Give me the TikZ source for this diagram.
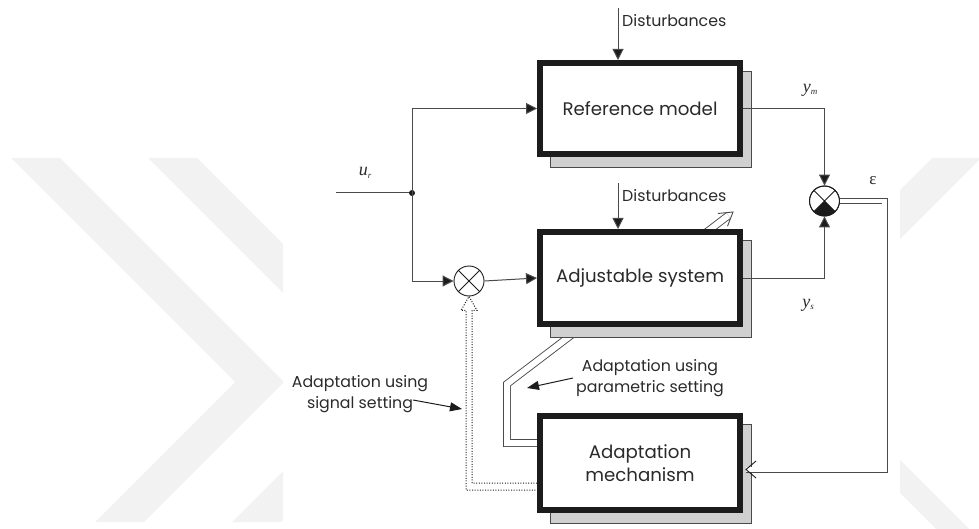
\documentclass[tikz,border=0pt]{standalone}
\usepackage{fontspec}
\setmainfont{Poppins}
\newfontfamily\symfont{Liberation Serif}
\usetikzlibrary{arrows.meta,calc}
\definecolor{ink}{HTML}{1C1C1C}
\definecolor{wire}{HTML}{4A4A4A}
\definecolor{shade}{HTML}{D0D0D0}
\definecolor{wmgray}{HTML}{F2F2F2}
\definecolor{txt}{HTML}{2A2A2A}
\newcommand\blocktext{\fontsize{18.2}{23}\selectfont}
\newcommand\notetext{\fontsize{15.8}{21}\selectfont}
\newcommand\symtext{\symfont\itshape\fontsize{18}{18}\selectfont}
\newcommand\subtext[1]{\raisebox{-2.5pt}{\fontsize{9}{9}\selectfont #1}}

\begin{document}
\begin{tikzpicture}[x=1pt,y=-1pt,
  block/.style={draw=ink, line width=6pt, fill=white, minimum width=200pt,
    inner sep=0pt, align=center, font=\blocktext, text=txt},
  shadowbox/.style={fill=shade, draw=wire, line width=0.8pt},
  junction/.style={circle, draw=ink, line width=0.9pt, fill=white,
    minimum size=30pt, inner sep=0pt},
  wireline/.style={draw=wire, line width=1pt},
  sig/.style={wireline, -{Triangle[length=11pt,width=11pt,fill=ink]}},
  pointer/.style={draw=ink, line width=1pt, -{Triangle[length=12pt,width=9pt,fill=ink]}},
  twin/.style={draw=wire, line width=0.9pt, double=white, line join=miter},
  note/.style={font=\notetext, text=txt, align=center, inner sep=0pt},
  sym/.style={font=\symtext, text=txt, inner sep=0pt}]

\useasboundingbox (0,0) rectangle (979,529);

% faint background watermark
\begin{scope}
  \clip (0,158) rectangle (283,522);
  \fill[wmgray] (11,158) -- (60,158) -- (284,382) -- (144,522) -- (95,522) -- (235,382) -- cycle;
  \fill[wmgray] (148,158) -- (197,158) -- (421,382) -- (281,522) -- (232,522) -- (372,382) -- cycle;
\end{scope}
\begin{scope}
  \clip (900,150) rectangle (979,529);
  \fill[wmgray] (900,190) -- (932,158) -- (981,158) -- (900,239) -- cycle;
  \fill[wmgray] (900,460) -- (1000,560) -- (1000,593) -- (900,493) -- cycle;
\end{scope}

% parametric adaptation path (drawn first, passes behind the block)
\coordinate (ptail) at (507,384);
\coordinate (ptip) at (733,212);
\coordinate (pbase) at ($(ptip)!6pt!(ptail)$);
\draw[twin, double distance=6pt] (537,443) -- (507,443) -- (ptail) -- (pbase);
\draw[draw=wire, line width=0.9pt]
  ($(ptip)!13pt!(ptail)!8pt!90:(ptail)$) -- (ptip) -- ($(ptip)!13pt!(ptail)!8pt!-90:(ptail)$);

% shadows
\foreach \c/\h in {108.5/91, 278/92, 463/94}{
  \draw[shadowbox] (550,\c-\h/2+8) rectangle (751,\c+\h/2+13);
}

% blocks
\node[block, minimum height=91pt] (ref) at (640,108.5) {Reference model};
\node[block, minimum height=92pt] (adj) at (640,278) {Adjustable system};
\node[block, minimum height=94pt] (adapt) at (640,463) {Adaptation\\mechanism};

% summing junctions
\node[junction] (sumL) at (469,281) {};
\draw[ink, line width=0.9pt] (sumL.north west) -- (sumL.south east)
  (sumL.north east) -- (sumL.south west);
\node[junction] (sumR) at (824.5,201) {};
\begin{scope}
  \clip (sumR.center) circle[radius=15pt];
  \fill[ink] (sumR.center) -- ($(sumR.center)+(-20,20)$) -- ($(sumR.center)+(20,20)$) -- cycle;
\end{scope}
\draw[ink, line width=0.9pt] (sumR.north west) -- (sumR.south east)
  (sumR.north east) -- (sumR.south west);
\draw[ink, line width=0.9pt] (sumR.center) circle[radius=15pt];

% input and forward signals
\coordinate (uin) at (336,193);
\coordinate (split) at (412,193);
\draw[wireline] (uin) -- (split);
\fill[ink] (split) circle[radius=3pt];
\draw[sig] (split) |- (ref.west);
\draw[sig] (split) |- (sumL.west);
\draw[sig] (sumL.east) -- (adj.west);

% disturbances
\coordinate (dtop1) at (618,8);
\coordinate (dtop2) at (618,183);
\draw[sig] (dtop1) -- (dtop1 |- ref.north);
\draw[sig] (dtop2) -- (dtop2 |- adj.north);
\node[note, anchor=base west] (dist1) at (622,27) {Disturbances};
\node[note, anchor=base west] (dist2) at (622,202) {Disturbances};

% outputs into the comparator
\draw[sig] (ref.east) -| (sumR.north);
\draw[sig] (adj.east) -| (sumR.south);

% error feedback to the adaptation mechanism
\draw[twin, double distance=4.2pt] (sumR.east) -- (884.5,201) -- (884.5,469.5) -- (746,469.5);
\draw[draw=ink, line width=0.9pt] (756,461) -- (746,469.5) -- (756,478);

% signal adaptation path (dotted hollow arrow)
\draw[draw=ink, line width=1pt, dash pattern=on 1pt off 1.6pt]
  (537,483) -- (472,483) -- ([shift={(3,14)}]sumL.south) -- ([shift={(8,14)}]sumL.south)
  -- (sumL.south) -- ([shift={(-8,14)}]sumL.south) -- ([shift={(-3,14)}]sumL.south)
  -- (466,490) -- (537,490);

% symbols
\node[sym] (ur) at (365,173) {u\subtext{r}};
\node[sym] (ym) at (810,90) {y\subtext{m}};
\node[sym] (ys) at (808,305) {y\subtext{s}};
\node[sym, font=\symfont\fontsize{17}{17}\selectfont] (eps) at (873,181) {ε};

% annotations
\node[note] (slabel) at (360,394.5) {Adaptation using\\signal setting};
\coordinate (sfrom) at (413,400);
\coordinate (sto) at (462,409);
\draw[pointer] (sfrom) -- (sto);
\node[note] (plabel) at (650,378) {Adaptation using\\parametric setting};
\coordinate (pto) at (527,388);
\draw[pointer] ([xshift=-3pt]plabel.west) -- (pto);

\end{tikzpicture}
\end{document}
